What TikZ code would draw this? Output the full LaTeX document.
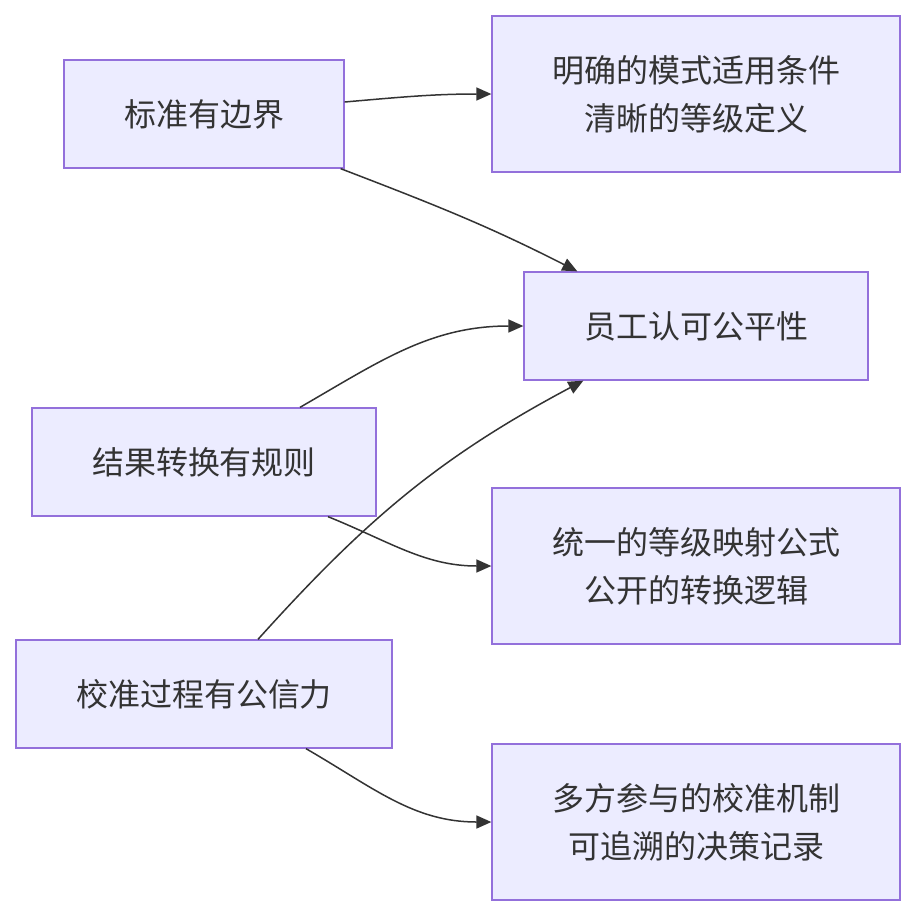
\documentclass[tikz,border=0pt]{standalone}
\usepackage{fontspec}
\setmainfont{Noto Sans CJK SC}
\usetikzlibrary{arrows.meta}
\definecolor{boxfill}{HTML}{ECECFF}
\definecolor{boxline}{HTML}{9370DB}
\definecolor{txt}{HTML}{333333}
\begin{document}
\begin{tikzpicture}[x=1pt,y=-1pt,
  box/.style={draw=boxline,fill=boxfill,line width=1.3pt,inner sep=0pt,align=center,text=txt,
    font=\fontsize{32}{48}\selectfont},
  link/.style={draw=txt,line width=1.5pt,-{Triangle[length=15pt,width=13pt]}}]
\useasboundingbox (0,0) rectangle (916,916);
\fill[white] (0,0) rectangle (916,916);
\node[box,minimum width=280pt,minimum height=108pt] (A) at (204,114) {标准有边界};
\node[box,minimum width=408pt,minimum height=156pt] (B) at (696,94) {明确的模式适用条件\\清晰的等级定义};
\node[box,minimum width=344pt,minimum height=108pt] (C) at (696,326) {员工认可公平性};
\node[box,minimum width=344pt,minimum height=108pt] (D) at (204,462) {结果转换有规则};
\node[box,minimum width=408pt,minimum height=156pt] (E) at (696,566) {统一的等级映射公式\\公开的转换逻辑};
\node[box,minimum width=376pt,minimum height=108pt] (F) at (204,694) {校准过程有公信力};
\node[box,minimum width=408pt,minimum height=156pt] (G) at (696,822) {多方参与的校准机制\\可追溯的决策记录};

\draw[link] ([yshift=12pt]A.east) to[out=5,in=180] (B.west);
\draw[link] ([xshift=-4pt]A.south east) to[out=-21,in=153] ([xshift=54pt]C.north west);
\draw[link] ([xshift=96pt]D.north) to[out=30,in=180] (C.west);
\draw[link] ([xshift=124pt]D.south) to[out=-22,in=180] (E.west);
\draw[link] ([xshift=54pt]F.north) to[out=48,in=-152] ([xshift=60pt]C.south west);
\draw[link] ([xshift=102pt]F.south) to[out=-30,in=180] (G.west);
\end{tikzpicture}
\end{document}
